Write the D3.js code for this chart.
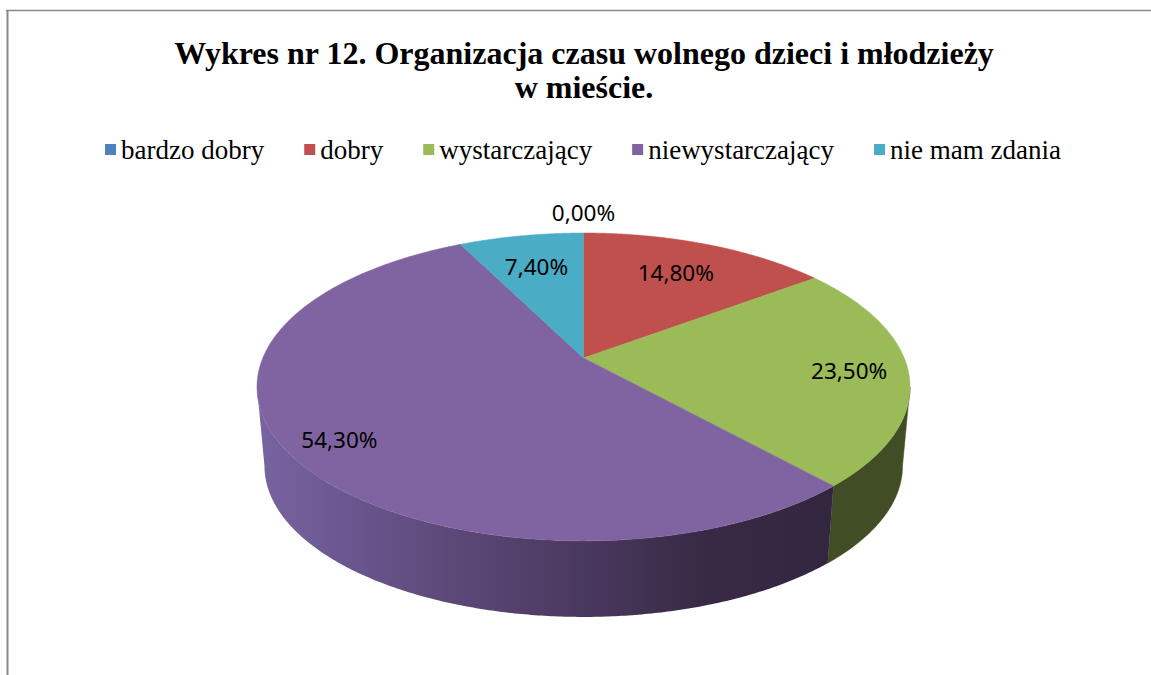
<!DOCTYPE html>
<html>
<head>
<meta charset="utf-8">
<script src="https://cdn.jsdelivr.net/npm/d3@7"></script>
<style>
  html, body { margin: 0; padding: 0; background: #fff; }
  svg { display: block; }
</style>
</head>
<body>
<div id="chart"></div>
<script>
const titleLines = ["Wykres nr 12. Organizacja czasu wolnego dzieci i młodzieży", "w mieście."];
const categories = ["bardzo dobry", "dobry", "wystarczający", "niewystarczający", "nie mam zdania"];
const values = [0.0, 14.8, 23.5, 54.3, 7.4];
const valueLabels = ["0,00%", "14,80%", "23,50%", "54,30%", "7,40%"];

const topColors = ["#4f81bd", "#c0504d", "#9bbb59", "#8064a2", "#4bacc6"];
const sideColors = ["#2c4a6e", "#6e2b29", "#414e25", "#3a2c4a", "#2a6473"];

const width = 1151;
const height = 675;

const svg = d3.select("#chart")
  .append("svg")
  .attr("width", width)
  .attr("height", height);

// frame (only top + left edges visible in the source)
svg.append("line").attr("x1", 6).attr("x2", width).attr("y1", 10.5).attr("y2", 10.5)
  .attr("stroke", "#888").attr("stroke-width", 1.5);
svg.append("line").attr("x1", 7.5).attr("x2", 7.5).attr("y1", 10).attr("y2", height)
  .attr("stroke", "#888").attr("stroke-width", 2);

// title
const title = svg.append("text")
  .attr("text-anchor", "middle")
  .attr("font-family", "'Liberation Serif', 'Times New Roman', serif")
  .attr("font-weight", "bold")
  .attr("font-size", 32)
  .attr("fill", "#000");
title.selectAll("tspan")
  .data(titleLines)
  .enter().append("tspan")
  .attr("x", 584)
  .attr("y", (d, i) => 64 + i * 34)
  .text(d => d);

// legend
const legend = svg.append("g");
const items = legend.selectAll("g.item")
  .data(categories)
  .enter().append("g")
  .attr("class", "item");
items.append("rect")
  .attr("width", 11).attr("height", 11)
  .attr("y", 144)
  .attr("fill", (d, i) => topColors[i]);
items.append("text")
  .attr("x", 16)
  .attr("y", 159)
  .attr("font-family", "'Liberation Serif', 'Times New Roman', serif")
  .attr("font-size", 27)
  .attr("fill", "#000")
  .text(d => d);
let lx = 0;
const gap = 40;
items.each(function () {
  const w = d3.select(this).select("text").node().getComputedTextLength();
  d3.select(this).attr("transform", `translate(${lx},0)`);
  lx += 16 + w + gap;
});
const totalW = lx - gap;
legend.attr("transform", `translate(${583 - totalW / 2},0)`);

// 3D pie projection (perspective tilted disc)
const cx = 583.5, cy = 358;
const k = 0.188, a = 148.5, sx = 320.7;
const botScaleX = 0.977, botScaleY = 0.98, depth = 79.7;

function proj(theta, r, bottom) {
  const X = r * Math.sin(theta), Z = r * Math.cos(theta);
  const w = 1 + k * Z;
  let x = cx + sx * X / w;
  let y = cy - a * Z / w;
  if (bottom) {
    x = cx + (x - cx) * botScaleX;
    y = cy + (y - cy) * botScaleY + depth;
  }
  return [x, y];
}

const pie = d3.pie().sort(null).value(d => d)(values);
const line = d3.line();

function arcPoints(s, e, bottom) {
  const n = Math.max(2, Math.ceil(Math.abs(e - s) / (Math.PI / 360)));
  return d3.range(n + 1).map(i => proj(s + (e - s) * i / n, 1, bottom));
}

// side walls
const visS = Math.acos(-k), visE = 2 * Math.PI - Math.acos(-k);
const defs = svg.append("defs");
const grad = defs.append("linearGradient")
  .attr("id", "sideGrad3")
  .attr("gradientUnits", "userSpaceOnUse")
  .attr("x1", 260).attr("x2", 830).attr("y1", 0).attr("y2", 0);
[["0", "#7863a2"], ["0.25", "#634f82"], ["0.5", "#4f3d66"], ["0.78", "#382a45"], ["1", "#33263f"]]
  .forEach(([o, c]) => grad.append("stop").attr("offset", o).attr("stop-color", c));

const sides = pie.map((p, i) => {
  const s = Math.max(p.startAngle, visS), e = Math.min(p.endAngle, visE);
  return { i, s, e };
}).filter(d => d.e > d.s && values[d.i] > 0);

svg.selectAll("path.side")
  .data(sides)
  .enter().append("path")
  .attr("class", "side")
  .attr("d", d => line(arcPoints(d.s, d.e, false).concat(arcPoints(d.e, d.s, true))) + "Z")
  .attr("fill", d => d.i === 3 ? "url(#sideGrad3)" : sideColors[d.i])
  .attr("stroke", d => d.i === 3 ? "none" : sideColors[d.i])
  .attr("stroke-width", 0.5);

// top faces
svg.selectAll("path.top")
  .data(pie.filter(p => p.value > 0))
  .enter().append("path")
  .attr("class", "top")
  .attr("d", p => line([[cx, cy]].concat(arcPoints(p.startAngle, p.endAngle, false))) + "Z")
  .attr("fill", p => topColors[p.index])
  .attr("stroke", p => topColors[p.index])
  .attr("stroke-width", 0.5);

// data labels
const labelR = [1.2, 0.72, 0.82, 0.84, 0.72];
svg.selectAll("text.lbl")
  .data(pie)
  .enter().append("text")
  .attr("class", "lbl")
  .attr("text-anchor", "middle")
  .attr("dominant-baseline", "central")
  .attr("font-family", "'Noto Sans', 'Open Sans', sans-serif")
  .attr("font-size", 22.5)
  .attr("fill", "#000")
  .each(function (p) {
    const mid = (p.startAngle + p.endAngle) / 2;
    const [x, y] = proj(mid, labelR[p.index], false);
    d3.select(this).attr("x", x).attr("y", y + (p.index === 3 ? 4 : 0));
  })
  .text(p => valueLabels[p.index]);
</script>
</body>
</html>
